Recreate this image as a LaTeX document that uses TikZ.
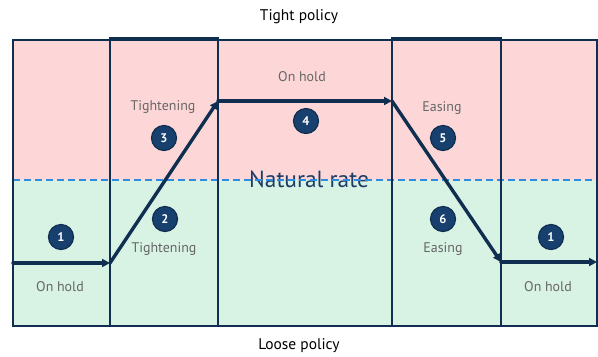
\documentclass[tikz,border=0pt]{standalone}
\usepackage{fontspec}
\setmainfont{PT Sans}
\usetikzlibrary{arrows.meta}
\definecolor{navy}{HTML}{102F50}
\definecolor{circfill}{HTML}{17406E}
\definecolor{pinkbg}{HTML}{FDD7D7}
\definecolor{greenbg}{HTML}{D8F2E4}
\definecolor{dashblue}{HTML}{2E8BE0}
\definecolor{lbl}{HTML}{666666}
\definecolor{natc}{HTML}{1E3C64}
\tikzset{
  colbox/.style={draw=navy, line width=2.6bp},
  lab/.style={text=lbl, font=\fontsize{14}{16}\selectfont, inner sep=0},
  num/.style={circle, fill=circfill, draw=navy, line width=1.2bp, minimum size=25bp, inner sep=0,
    text=white, font=\bfseries\fontsize{12.5}{14}\selectfont},
  path/.style={draw=navy, line width=3.4bp, line cap=round, -{Triangle[length=8bp,width=8bp]}},
  ttl/.style={text=black, font=\fontsize{15.5}{18}\selectfont, inner sep=0},
}
\begin{document}
\begin{tikzpicture}[x=1bp, y=-1bp]
\useasboundingbox (0,0) rectangle (598,356);
% backgrounds
\fill[pinkbg] (13,40) rectangle (597,180);
\fill[greenbg] (13,180) rectangle (597,326);
\node[text=natc, font=\fontsize{23.5}{26}\selectfont, inner sep=0] (nat) at (309,179) {Natural rate};
\draw[dashblue, line width=2bp, dash pattern=on 7bp off 4bp] (13,180) -- (597,180);
% boxes
\draw[colbox] (13,40) rectangle (597,326);
\draw[colbox] (110,38.5) rectangle (218,326);
\draw[colbox] (392,38.5) rectangle (501,326);
% titles
\node[ttl] (tight) at (299,17) {Tight policy};
\node[ttl] (loose) at (299,346) {Loose policy};
% path coordinates
\coordinate (p0) at (13,263);
\coordinate (p1) at (110,263);
\coordinate (p2) at (218,101);
\coordinate (p3) at (392,101);
\coordinate (p4) at (501,262);
\coordinate (p5) at (597,262);
\draw[path] (p0) -- (p1);
\draw[path] (p1) -- (p2);
\draw[path] (p2) -- (p3);
\draw[path] (p3) -- (p4);
\draw[path] (p4) -- (p5);
% labels
\node[lab] (l1) at (60,287) {On hold};
\node[lab] (l2) at (164,249) {Tightening};
\node[lab] (l3) at (163,107) {Tightening};
\node[lab] (l4) at (302,77) {On hold};
\node[lab] (l5) at (442,108) {Easing};
\node[lab] (l6) at (443,249) {Easing};
\node[lab] (l7) at (548,287) {On hold};
% numbers
\node[num] (n1) at (61,237) {1};
\node[num] (n2) at (165,219) {2};
\node[num] (n3) at (164,138) {3};
\node[num] (n4) at (306,121) {4};
\node[num] (n5) at (443,138) {5};
\node[num] (n6) at (443,219) {6};
\node[num] (n7) at (551,237) {1};
\end{tikzpicture}
\end{document}
